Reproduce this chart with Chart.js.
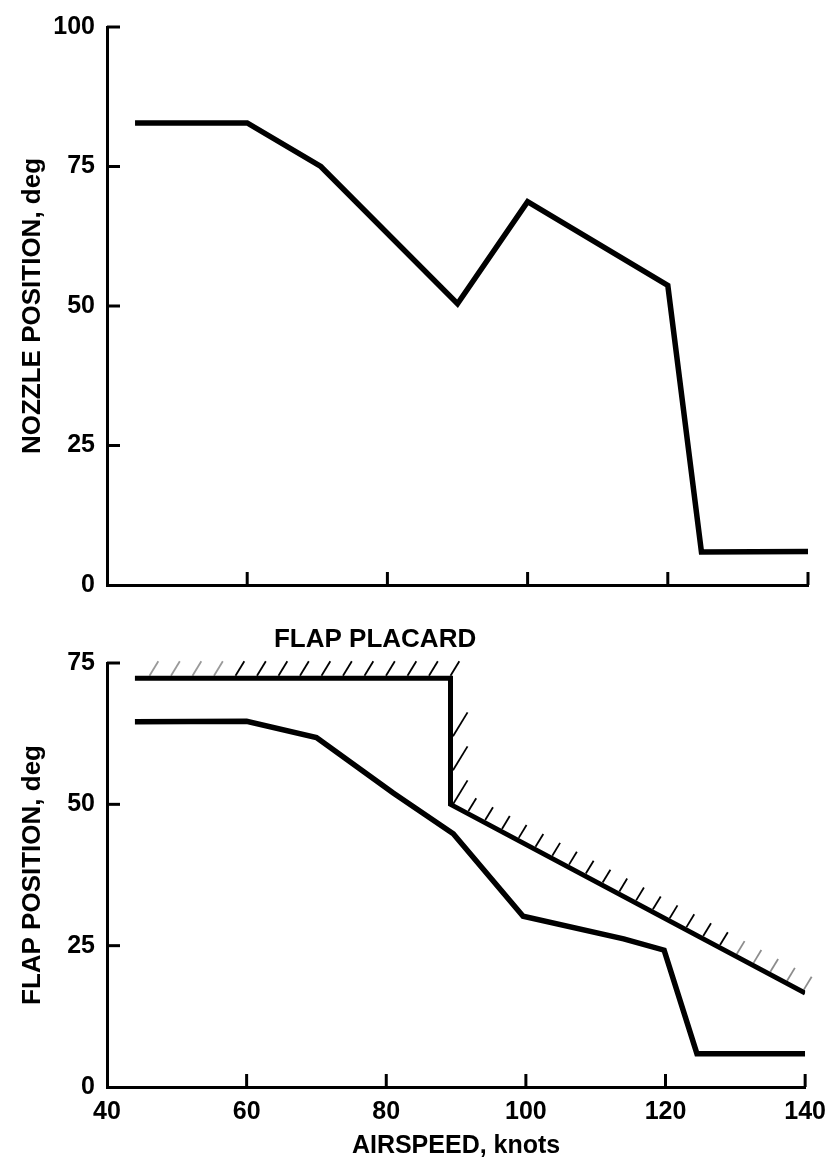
<!DOCTYPE html>
<html>
<head>
<meta charset="utf-8">
<title>Nozzle and flap position vs airspeed</title>
<script src="https://cdn.jsdelivr.net/npm/chart.js@4.4.0/dist/chart.umd.min.js"></script>
<style>
  html, body { margin: 0; padding: 0; background: #fff; }
  #wrap { position: relative; width: 836px; height: 1162px; }
  canvas { position: absolute; left: 0; }
  #nozzleChart { top: 0; }
  #flapChart { top: 620px; }
</style>
</head>
<body>
<div id="wrap">
  <canvas id="nozzleChart" width="836" height="620"></canvas>
  <canvas id="flapChart" width="836" height="542"></canvas>
</div>
<script>
//nozzle schedule, airspeed (knots) vs nozzle angle (deg)
const nozzleSpeeds = [44, 60, 70.5, 90, 100, 120, 124.8, 140];
const nozzleDeg = [82.8, 82.8, 75, 50.4, 68.7, 53.7, 5.9, 6];

//flap schedule
const flapSpeeds = [44, 60, 70, 81, 89.6, 99.6, 114, 119.8, 124.5, 140];
const flapDeg = [64.6, 64.7, 61.8, 52, 44.8, 30.2, 26.2, 24.2, 5.9, 5.9];

//flap placard limit
const placardSpeeds = [44, 89.2, 89.2, 140];
const placardDeg = [72.3, 72.3, 50, 16.6];
const placardLabel = "FLAP PLACARD";
const placardLabelAt = [78.4, 79.1];

//axis ticks
const airspeedTicks = [40, 60, 80, 100, 120, 140];
const nozzleTicks = [0, 25, 50, 75, 100];
const flapTicks = [0, 25, 50, 75];

const FONT = "'Liberation Sans', Arial, Helvetica, sans-serif";

const toPoints = (xs, ys) => xs.map((x, i) => ({ x: x, y: ys[i] }));

//short tick marks drawn inside the plot, like the original figure
const innerTicks = {
  id: "innerTicks",
  afterDatasetsDraw(chart) {
    const { ctx, chartArea, scales } = chart;
    ctx.save();
    ctx.strokeStyle = "#000";
    ctx.lineWidth = 3;
    scales.x.ticks.forEach((t) => {
      if (t.value === scales.x.min) return;
      const px = scales.x.getPixelForValue(t.value);
      ctx.beginPath();
      ctx.moveTo(px, chartArea.bottom);
      ctx.lineTo(px, chartArea.bottom - 13);
      ctx.stroke();
    });
    scales.y.ticks.forEach((t) => {
      if (t.value === scales.y.min) return;
      const py = scales.y.getPixelForValue(t.value);
      ctx.beginPath();
      ctx.moveTo(chartArea.left, py);
      ctx.lineTo(chartArea.left + 13, py);
      ctx.stroke();
    });
    ctx.restore();
  },
};

//hatching on the forbidden side of the placard line
const placardHatch = {
  id: "placardHatch",
  afterDatasetsDraw(chart) {
    const pts = chart.getDatasetMeta(1).data;
    const ctx = chart.ctx;
    const spacing = [21.5, 34, 19];
    const len = [17, 28, 15];
    const dir = [0.52, -0.855];
    ctx.save();
    ctx.strokeStyle = "#000";
    ctx.lineWidth = 1.8;
    for (let s = 0; s < pts.length - 1; s++) {
      const a = pts[s], b = pts[s + 1];
      const dx = b.x - a.x, dy = b.y - a.y;
      const L = Math.hypot(dx, dy);
      const nx = dy / L, ny = -dx / L;
      const n = Math.floor(L / spacing[s]);
      for (let k = 0; k <= n; k++) {
        let px, py, alpha = 1;
        if (s === 2) {
          if (k === 0) continue;
          px = a.x + (dx * k * spacing[s]) / L;
          py = a.y + (dy * k * spacing[s]) / L;
          if (k > n - 5) alpha = 0.45;
        } else {
          px = b.x - (dx * k * spacing[s]) / L;
          py = b.y - (dy * k * spacing[s]) / L;
          if (s === 1 && k === n) continue;
          if (s === 0 && k > n - 4) alpha = 0.4;
        }
        const sx = px + nx * 2.5, sy = py + ny * 2.5;
        ctx.globalAlpha = alpha;
        ctx.beginPath();
        ctx.moveTo(sx, sy);
        ctx.lineTo(sx + dir[0] * len[s], sy + dir[1] * len[s]);
        ctx.stroke();
      }
    }
    ctx.restore();
  },
};

const placardText = {
  id: "placardText",
  afterDraw(chart) {
    const { ctx, scales } = chart;
    ctx.save();
    ctx.font = "bold 26px " + FONT;
    ctx.fillStyle = "#000";
    ctx.textAlign = "center";
    ctx.textBaseline = "middle";
    ctx.fillText(placardLabel, scales.x.getPixelForValue(placardLabelAt[0]), scales.y.getPixelForValue(placardLabelAt[1]));
    ctx.restore();
  },
};

//shared scale config for both panels
function makeScales(yTicks, yTitle, showX, xAxisHeight) {
  return {
    x: {
      type: "linear",
      min: airspeedTicks[0],
      max: airspeedTicks[airspeedTicks.length - 1],
      afterBuildTicks: (s) => { s.ticks = airspeedTicks.map((v) => ({ value: v })); },
      afterFit: (s) => { s.height = xAxisHeight; },
      grid: { display: false, drawTicks: false },
      border: { display: true, color: "#000", width: 3 },
      ticks: {
        display: showX,
        color: "#000",
        padding: 10,
        maxRotation: 0,
        autoSkip: false,
        font: { family: FONT, size: 25, weight: "bold" },
        callback: (v) => String(v),
      },
      title: {
        display: showX,
        text: "AIRSPEED, knots",
        color: "#000",
        padding: { top: 0, bottom: 1 },
        font: { family: FONT, size: 25, weight: "bold" },
      },
    },
    y: {
      min: yTicks[0],
      max: yTicks[yTicks.length - 1],
      afterBuildTicks: (s) => { s.ticks = yTicks.map((v) => ({ value: v })); },
      afterFit: (s) => { s.width = 107; },
      grid: { display: false, drawTicks: false },
      border: { display: true, color: "#000", width: 3 },
      ticks: {
        color: "#000",
        padding: 12,
        font: { family: FONT, size: 25, weight: "bold" },
        callback: (v) => String(v),
      },
      title: {
        display: true,
        text: yTitle,
        color: "#000",
        padding: { top: 17, bottom: 0 },
        font: { family: FONT, size: 26, weight: "bold" },
      },
    },
  };
}

const lineStyle = {
  borderColor: "#000",
  borderWidth: 5.5,
  pointRadius: 0,
  tension: 0,
  fill: false,
  borderJoinStyle: "miter",
  borderCapStyle: "butt",
};

const baseOptions = {
  responsive: false,
  animation: false,
  events: [],
  plugins: { legend: { display: false }, tooltip: { enabled: false } },
};

//Top panel: nozzle position
new Chart(document.getElementById("nozzleChart"), {
  type: "line",
  data: {
    datasets: [{ ...lineStyle, label: "Nozzle", data: toPoints(nozzleSpeeds, nozzleDeg) }],
  },
  options: {
    ...baseOptions,
    layout: { padding: { top: 20, right: 28, left: 0, bottom: 0 } },
    scales: makeScales(nozzleTicks, "NOZZLE POSITION, deg", false, 35),
  },
  plugins: [innerTicks],
});

//Bottom panel: flap position with placard limit
new Chart(document.getElementById("flapChart"), {
  type: "line",
  data: {
    datasets: [
      { ...lineStyle, label: "Flap", data: toPoints(flapSpeeds, flapDeg) },
      { ...lineStyle, borderWidth: 5, label: "Placard", data: toPoints(placardSpeeds, placardDeg) },
    ],
  },
  options: {
    ...baseOptions,
    layout: { padding: { top: 43, right: 28, left: 0, bottom: 0 } },
    scales: makeScales(flapTicks, "FLAP POSITION, deg", true, 75),
  },
  plugins: [innerTicks, placardHatch, placardText],
});
</script>
</body>
</html>
